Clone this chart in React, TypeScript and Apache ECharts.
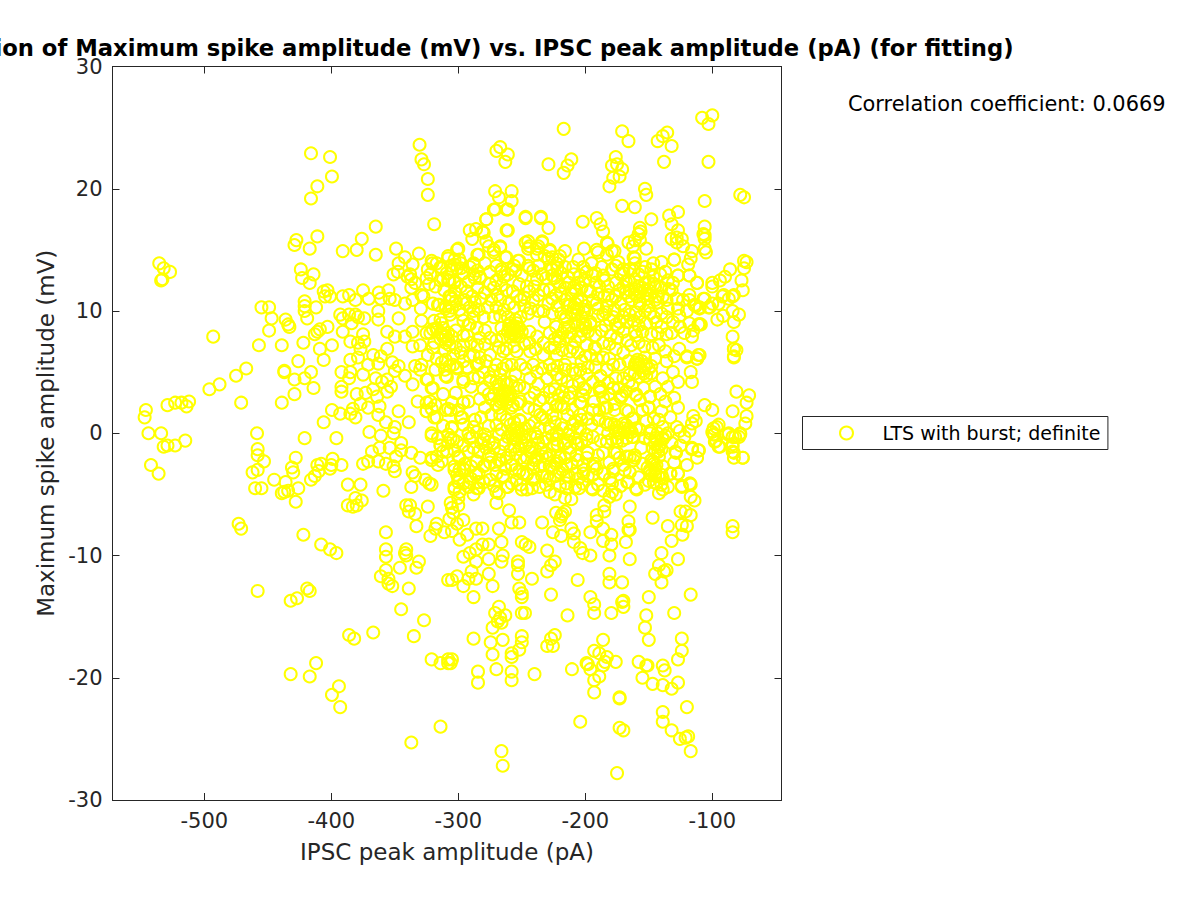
import React, { useEffect, useRef } from "react";
import * as echarts from "echarts";

type P = [number, number];

const xTicks = [-500, -400, -300, -200, -100];
const yTicks = [-30, -20, -10, 0, 10, 20, 30];

const upperLeft: P[] = [[-416,22.9],[-401,22.6],[-399.5,21],[-411,20.2],[-416,19.2],[-330.5,23.6],[-329,22.4],[-327,22],[-324,20.8],[-324,19.5],[-319,17.1],[-365,16.9],[-411,16.1],[-376,15.9],[-427.5,15.8],[-429,15.4],[-417,15.1],[-391,14.9],[-380,15],[-365,14.6],[-349,15.1],[-342,14.4],[-331,14.7],[-535.5,13.9],[-532,13.5],[-527,13.2],[-533,12.6],[-534,12.5],[-424,13.4],[-423,12.7],[-414,13],[-417,12.3],[-406,11.6],[-403,11.7],[-401,11.2],[-405,11.2],[-421,10.8],[-421,10.4],[-421,10],[-419,9.4],[-412,10.3],[-455,10.3],[-449,10.3],[-447,9.4],[-436,9.3],[-434,8.9],[-433,8.7],[-449,8.4],[-457,7.2],[-439,7.2],[-493,7.9],[-403,8.7],[-409,8.5],[-413,8.1],[-411,8.3],[-422,7.4],[-399.5,7.2],[-409,6.9],[-406,6],[-426,5.9],[-467,5.3],[-475,4.7],[-488,4],[-496,3.6],[-437,5.1],[-437,5],[-416,5],[-429,4.4],[-421,4.5],[-414,3.7],[-429,3.2],[-471,2.5],[-439,2.5],[-529,2.3],[-523,2.5],[-518,2.5],[-512,2.6],[-514,2.2],[-546,1.9],[-547,1.3],[-544,0],[-534,0],[-458.5,0],
[-391,11.2],[-386,11.3],[-381,10.9],[-375,11.7],[-370.5,11],[-362.6,11.5],[-361,11],[-355,11.7],[-354,11],[-350,10.9],[-363,10],[-363,9.3],[-347,9.4],[-342,10.6],[-336,10.9],[-329.5,10.2],[-393,9.7],[-391,9.4],[-386,9.7],[-381,9.7],[-379,9.5],[-374,9.4],[-384,9],[-391,8.3],[-375,8.1],[-356,8.3],[-350,7.9],[-342,7.9],[-336,8.3],[-336,7.1],[-330,7.2],[-385,7.5],[-379,7.4],[-374,7.5],[-377,6.9],[-385,6],[-379,6.2],[-367,6.4],[-356,6.9],[-361,6.3],[-363,5.7],[-371,5.6],[-352,5.8],[-347,5.5],[-350,5.1],[-342,4.7],[-334,5.5],[-329,5.6],[-324,6.4],[-330,5.2],[-375,4.8],[-392,5],[-385,5],[-386,4.5],[-365,4.5],[-356,4.4],[-360,4.2],[-353,3.8],[-336,4],[-325,4.4],[-321,3.7],[-392,3.8],[-392,3.4],[-380,3.2],[-373,3.3],[-367,3.6],[-364,3],[-356,3.4],[-377,2.4],[-371,2.1],[-362,2.2],[-363,1.5],[-399.5,1.9],[-393,1.6],[-385,1.6],[-381,1.3],[-383,2],[-347,1.8],[-332,2.6],[-325,2.5],[-318,2.3],[-325,1.8],[-319,1.3],[-310,1.9],[-339,0.9],[-406,0.9],[-357,0.9],[-370,0.1],[-350,0.5],[-351,0],[-361,-0.2],[-321,0],[-305,0.5],
[-347,13.9],[-351,13],[-347.5,13.2],[-336,13.8],[-340,12.8],[-337,12.6],[-334,12.3],[-337,11.9],[-324,13.4],[-320.5,13.9],[-314,13.6],[-308,14.3],[-306,13.7],[-325,12.7],[-323,12.2],[-312,12.6],[-307,12.5],[-329,11.3],[-307,11.2],[-315,10.5],[-310,10.4],[-307,10],[-319,9.2],[-313,9],[-329,9.2],[-325,8.2],[-310,7.9],[-317,8.5],[-313,8.2],[-310,6],[-307,5.5],[-310,4.7]];

const lowerLeft: P[] = [[-529,-1],[-532,-1.1],[-523,-1],[-515,-0.6],[-542,-2.6],[-536,-3.3],[-458,-1.3],[-458,-1.8],[-453,-2.3],[-428,-2],[-431,-2.8],[-430,-3.2],[-462,-3.2],[-458,-3],[-460,-4.5],[-455,-4.5],[-445,-3.8],[-436,-4],[-439,-4.9],[-437,-4.8],[-434,-4.7],[-426,-4.5],[-428,-5.6],[-416,-3.8],[-413,-3.5],[-410,-3.1],[-411,-2.6],[-408,-2.5],[-401,-2.9],[-399,-2.1],[-400,-2.6],[-392,-2.6],[-421,-0.4],[-396,-0.4],[-387,-4.2],[-377,-4.2],[-359,-4.7],[-375,-2.5],[-371,-2.3],[-368,-1.5],[-362,-1.2],[-363,-2.3],[-357,-2.5],[-354,-1.2],[-345,-0.8],[-345,-1.4],[-349,-1.9],[-351,-2.7],[-350,-3.1],[-337,-1.6],[-330,-2],[-336,-3.2],[-334,-3.5],[-337,-4.4],[-326,-3.8],[-323,-4.1],[-321,-4.2],[-321,-2],[-316,-2.6],[-313,-2.3],[-314,-1],[-309,-1.5],[-306,-0.4],
[-381,-5.3],[-387,-5.9],[-383,-6],[-380,-5.9],[-376,-5.5],[-341,-5.9],[-338,-5.9],[-339,-6.4],[-334,-6.6],[-324,-6],[-333,-7.6],[-322,-8.4],[-318,-7.8],[-317,-7.4],[-311,-8.1],[-307,-7],[-305,-6.1],[-473,-7.4],[-471,-7.8],[-422,-8.3],[-408,-9.1],[-401,-9.5],[-396,-9.8],[-357,-8.1],[-357,-9.5],[-357,-10.1],[-341,-9.5],[-342,-9.8],[-341,-10],[-331,-10.5],[-333,-11],[-346,-11],[-357,-11.2],[-361,-11.7],[-355,-11.9],[-355,-12.3],[-352,-12.5],[-339,-12.7],[-458,-12.9],[-432,-13.7],[-427,-13.5],[-419,-12.7],[-417,-12.9],[-345,-14.4],[-327,-15.3],[-335,-16.6],[-367,-16.3],[-386,-16.5],[-382,-16.8],[-321,-18.5],[-314,-18.8],[-308,-18.5],[-308,-18.8],[-412,-18.8],[-432,-19.7],[-417,-19.9],[-394,-20.7],[-399.5,-21.4],[-393,-22.4],[-314,-24],[-337,-25.3],[-308,-12]];

const lowerRight: P[] = [[-266,-26],[-265,-27.2],[-175,-27.8],[-117,-26],[-204,-23.6],[-173,-24.1],[-170,-24.3],[-139,-22.8],[-139,-23.6],[-132,-24.3],[-125.5,-25],[-119,-24.8],[-121,-24.9],[-120,-22.4],[-173,-21.6],[-173,-21.7],[-193,-21.2],[-193,-20.2],[-189,-19.9],[-196,-19.3],[-199,-18.8],[-198,-18.9],[-193,-17.8],[-186,-16.9],[-189,-18],[-183,-18.3],[-186,-19],[-184.5,-18.7],[-176,-18.7],[-210.5,-19.3],[-240,-19.7],[-258,-19.5],[-258,-20.2],[-270,-19.3],[-284.5,-19.5],[-284.5,-20.4],[-273,-18.1],[-258,-18],[-258,-18.3],[-252,-17.7],[-250,-17.1],[-250,-16.6],[-288,-16.8],[-274.5,-17.1],[-265,-16.9],[-230,-17.4],[-225.5,-17.4],[-227,-16.8],[-224,-16.5],[-158,-18.7],[-152,-19],[-151,-19],[-139,-19],[-137.5,-19.4],[-155,-20],[-147,-20.5],[-139,-20.6],[-132,-20.9],[-127,-20.4],[-127,-18.5],[-124,-17.8],[-124,-16.8],[-150,-16.9],[-153,-15.9],[-152,-14.9],[-150,-13.4],[-130,-14.7],[-117,-13.2],[-179.5,-14.7],[-193,-14.7],[-193,-14],[-196,-13.4],[-214,-14.9],[-227,-13.2],[-250,-14.7],[-247.5,-14.7],[-250,-13.4],[-250,-13.1],[-252,-12.7],[-273,-12.5],[-288,-13.4],[-268,-14.2],[-271,-14.7],[-263,-14.9],[-267,-15.1],[-269,-15.4],[-273,-15.9],[-266,-15.5],[-171,-13.8],[-170,-14.2],[-170,-13.7],[-181,-12.2],[-171,-12.2],[-181,-11.5],[-206,-12],[-242,-11.9],[-253,-11.5],[-253,-10.5],[-253,-10.8],[-224,-10.5],[-227,-10.8],[-230,-11.3],[-230,-9.6],[-250,-8.9],[-247,-9.1],[-244,-9.3],[-265,-10],[-266,-10.5],[-266,-8.9],[-268,-7.8],[-276,-10.3],[-276,-11.5],[-276,-9.1],[-281,-9.1],[-286,-7.8],[-281,-7.8],[-286,-9.5],[-291,-9.8],[-296,-10.1],[-286,-10.5],[-289.5,-11.3],[-292,-11.9],[-286,-11.9],[-296,-12.5],[-301,-11.7],[-305,-12],[-305,-18.5],[-306,-18.8],[-196,-10],[-202,-9.8],[-204,-9.4],[-209,-8.9],[-219,-8.4],[-225.5,-8.1],[-211,-7.8],[-209,-8.2],[-181,-10],[-179.5,-9.1],[-179.5,-8.3],[-186,-8.8],[-186,-7.8],[-196,-8.1],[-191,-7.2],[-191,-6.7],[-185,-6.4],[-185,-5.9],[-181,-5.2],[-176,-5],[-165,-6],[-166,-7.2],[-165,-7.9],[-166,-7.9],[-168,-8.9],[-165,-10.3],[-147,-6.9],[-135,-7.6],[-132,-8.8],[-123.5,-8.3],[-120,-7.6],[-124,-7.5],[-140,-9.8],[-127,-10.3],[-142,-10.8],[-136,-11.2],[-138,-11.3],[-145,-11.5],[-140,-12.2],[-84,-7.6],[-84,-8.1],
[-125,-6.4],[-121,-6.4],[-117,-6.7],[-114,-5.5],[-117,-5.2],[-117,-4.2],[-124,-4.4],[-127,-3.3],[-133,-3.3],[-145,-3.5],[-142,-4.9],[-139,-4.6],[-135,-4.4],[-159.5,-4.6],[-166,-4],[-161,-2],[-165,-1.9],[-175,-1.6],[-128.5,-1.6],[-116,-1.3],[-111,-1.4],[-112,-2],[-97,-0.6],[-95,-1.1],[-84,-1.1],[-83,-1.6],[-83,-2],[-76,-2],[-79,-0.3],[-84,-0.3],[-99,-0.1],[-149,-3],[-148,-3.4],[-144,-4.1],[-146,-2.5],[-142,-1.1],[-139,-0.5],[-149,-0.5],[-142,-1.9],[-139,-2.7],
[-270,-5.7],[-260,-6.3],[-258,-7.3],[-252,-7.3],[-234,-7.3],[-223,-6.5],[-219,-6.8],[-216,-6.4],[-220,-7.1],[-218,-6.6],[-275,-3.8],[-265,-3.6],[-261,-4.4],[-268,-4.9],[-250,-4.6],[-242,-4.5],[-228,-4.8],[-224,-5],[-216,-5.3],[-211,-5.4],[-215,-4.1],[-213,-3.5],[-194,-4.6],[-202,-4.1],[-198,-3.5],[-191,-2.9],[-185,-3.3],[-178,-2.9],[-169,-3],[-179,-4.1],[-306,-5.7],[-300,-5.9],[-304,-6.5],[-296,-7.1],[-299,-8.7],[-301,-7.4],[-305,-8],[-293,-8.3],[-292,-4.4],[-288,-5],[-299,-4.8],[-300,-5.3],[-284,-4.5],[-299,-3],[-299,-2],[-304,-0.5],[-286,-2.3],[-280,-2.7],[-274,-1.9],[-268,-2.2],[-258,-2.6],[-252,-3.1],[-246,-3.3],[-241,-2.5],[-234,-1.9],[-228,-2.7],[-220,-1.9],[-215,-2.6],[-208,-3.3],[-198,-1.6],[-207,-0.8],[-183,-0.7],[-175,-0.4],[-163,-0.3],
[-291,-0.4],[-280,-0.5],[-272,-0.8],[-257,-0.4],[-250,-0.7],[-244,-1.1],[-237,-0.8],[-231,-0.4],[-223,-0.5],[-216,-0.8],[-267,-1.5],[-284,-1.5],[-278,-1.2],[-248,-2.2],[-242,-1.6],[-236,-2.7],[-223,-2.5],[-231,-1.6],[-212,-1.6],[-199,-0.5],[-194,-2.7],[-201,-3],[-249,-3.3],[-241,-3.8],[-234,-3.5],[-223,-3.5],[-254,-3.8],[-295,-2.5],[-301,-3.4],[-303,-4.4]];

const upperRight: P[] = [[-100,26],[-108,25.8],[-103,25.3],[-217,24.9],[-171,24.7],[-166,23.9],[-143,23.9],[-139,24.3],[-135.5,24.6],[-132,23.5],[-267,23.4],[-270,23.1],[-261,22.8],[-263,22.2],[-229,22],[-211,22.4],[-214,21.9],[-217,21.3],[-176,22.6],[-179,21.9],[-175,22],[-171,21.6],[-173,21],[-178,20.9],[-181,20.2],[-138,22.2],[-103,22.2],[-153,20],[-152,19.5],[-78,19.5],[-75,19.3],[-106,19],[-171,18.6],[-161,18.5],[-271,19.8],[-268,19.3],[-258,19.8],[-258,19],[-271,18.3],[-261,18.3],[-247,17.6],[-235,17.6],[-229,16.8],[-261,16.6],[-278,17.5],[-291,16.6],[-286,16.7],[-289,15.9],[-280,16.4],[-278,15.7],[-202,17.3],[-191,17.6],[-188,17.1],[-186,16.5],[-183,15.6],[-148,17.5],[-134,17.8],[-127,18.1],[-132,17.1],[-127,16.6],[-106,16.9],[-107,16.3],[-106,16.2],[-106,15.9],[-106,15.1],[-105,14.8],[-157,16.8],[-156.5,16.5],[-158,16.3],[-161,15.8],[-152,15.1],[-166,15.6],[-162.5,15.3],[-157,15.8],[-128,16],[-124,15.9],[-132,15.9],[-128,15.6],[-123,15.3],[-116,14.9],[-117,14.3],[-119,13.8],[-130,14.2],[-247,15.6],[-245,15.1],[-234,15.6],[-238,15.1],[-228,14.9],[-216,14.9],[-201,15.1],[-191,15],[-179,14.9],[-161,14.3],[-301,15],[-303,14.2],[-298,13.9],[-288,13.8],[-285,14.6],[-272,14.8],[-267,15.2],[-263,14.4],[-256,13.7],[-252,14.1],[-245,13.7],[-276,15.3],[-266,13.2],
[-75,14.1],[-73,14],[-75,13.5],[-86,13.4],[-77,12.5],[-76,11.7],[-90,12.8],[-94,12.5],[-100,12.3],[-100,12],[-112,12.3],[-118,12.9],[-127,12.9],[-91,11.3],[-83,11.3],[-84,11.2],[-87,11],[-100,10.6],[-92,11.2],[-107,11],[-103,10.3],[-118,10.9],[-113,10.4],[-110,10.3],[-84,10],[-79,9.7],[-83,9.1],[-96,9.3],[-91.5,9.6],[-109,8.9],[-111,8.9],[-116,7.9],[-84,7.9],[-83,6.9],[-81,6.8],[-83,6.2],[-120,6.2],[-110,6.4],[-112,6.1],[-117,5],[-116,4.2],[-81,3.4],[-71,3.1],[-73,2.5],[-84,1.8],[-73,1.4],[-74,0.8],[-106,2.3],[-100,1.9],[-115,1.4],[-113,1],[-116,0.8],[-127,2.1],[-140,1.8],[-133,1.3],[-142,1.1],[-139,0.5],[-149,0.2],[-135,0],[-128,0.5],[-125.5,0.2],[-100,0.1],[-96.5,0.5],[-87,0],[-78,0],
[-296,2.5],[-298,1.3],[-306,1.9],[-287,1.1],[-189,3.7],[-188,3.4],[-178,3.7],[-200,3.6],[-202,3.1],[-204,2.5],[-183,2.1],[-160,3.2],[-149,3],[-150,2.1],[-172,2.9],[-177,2.4],[-166,1.8],[-162,1.2],[-189,1.1],[-180,0.8],[-175,0.5],[-170,0.4],[-165,0.4],[-296,4.2],[-288,4.5],[-301,5.3],[-293,5.4],[-284,5.7],[-296,8],[-291,8.9],[-288,10],[-294,10.6],[-305,11],[-287,12.7],[-283,12.7],[-303,12.3],[-298,13.5],[-305,13.4]];

const denseTopMiddle: P[] = [[-262,18.3],[-272,18.3],[-278,17.5],[-247,17.7],[-235,17.7],[-262,16.6],[-281,16.5],[-300,15.1],[-284,14.6],[-272,15],[-267,15.3],[-262,14.4],[-253,14.1],[-245,15.7],[-244,15.3],[-234,15.7],[-237,15.3],[-228,15],[-308,14.5],[-317,13.9],[-321,14.1],[-299,14.2],[-313,13.5],[-301,13.5],[-288,13.9],[-266,13.4],[-258,13.4],[-244,13.5],[-234,13],[-229,14.3],[-222.5,13.9],[-322,13],[-314,12.5],[-308,12.5],[-303,12.4],[-288,13],[-283,12.8],[-292,12.4],[-270,12.5],[-264,12.8],[-252,12.2],[-272,11.9],[-266,12.1],[-262,11.7],[-246,12],[-240,12],[-228,11.7],[-223,11.3],
[-306,11.2],[-289,11.2],[-295,10.9],[-316,10.5],[-310,10.2],[-305,10.3],[-299,10.1],[-291,10.3],[-284,10.1],[-274,10.9],[-267,10.9],[-260,10.6],[-251,10.9],[-241,10.9],[-229,10.6],[-233,10],[-245,9.8],[-272,9.5],[-280,9.5],[-288,9.5],[-297,9.7],[-306.5,9.7],[-314,9.3],[-232,9.1],[-292,8.9],[-293,8],[-285.5,8.6],[-279,8.4],[-270,7.6],[-259,9],[-257,8.7],[-254,9],[-261,8.3],[-253,8.3],[-258,8.2],[-255,7.9],[-244,8.3],[-238,7.9],[-228,8.2],[-223,8.7],[-283,7.8],[-233,7.4],[-314,8.2],[-310,8],[-308,7.6],[-312,8.6],[-317,8.6],[-310,7.4],[-322,8.2],[-305,7.9],[-256,8.5],[-256,8.1],[-259,8.5],[-252,8.6],[-338,13],[-327.5,11.2]];

const denseTopRight: P[] = [[-182.4,15.5],[-221,14.2],[-216,13.6],[-205.5,14.2],[-199,13.2],[-192,13.1],[-190,14.8],[-183,14.6],[-177,14.9],[-174,14],[-162,14.4],[-161,13.9],[-170,13.1],[-165,13.4],[-166,12.5],[-158,13],[-153,13.6],[-146.5,13.9],[-140,14],[-130,14.2],[-146.5,12.8],[-137,13.2],[-135,12.5],[-127,12.9],[-118,12.9],[-112,12.3],[-158,12],[-153,11.7],[-149,11.3],[-145,12],[-140,11.9],[-132,11.7],[-128,11],[-123,10.9],[-118,11.3],[-114,10.5],[-106,11],[-110,10.2],[-102,10.3],[-95,10.6],[-145,10.9],[-150,10.4],[-157,10.6],[-163.5,10.9],[-169,10.1],[-177,10.1],[-179,10.9],[-185,11.2],[-190,11.4],[-198,11.7],[-211,11.4],[-216,10.9],[-208,10.6],[-200,10.4],[-191,10.6],[-219,9.8],[-211,9.8],[-203,9.5],[-196,9.1],[-186,9.7],[-181,9.3],[-173,9.1],[-165,9.7],[-157,9.5],[-149,9.8],[-140,9.8],[-131,9.1],[-125.5,8.7],[-118,9],[-110,8.9],[-140,8.7],[-148,8.1],[-155,8.3],[-161,8.3],[-174,8.6],[-175,7.8],[-170,8.3],[-187,8.4],[-192,8],[-203,8.4],[-211,8.2],[-216,8.6],[-221,7.9],[-208,7.5],[-199,7.2],[-164,7.2],[-153.5,7.1],[-192.5,7],
[-205.5,12.3],[-208,11.7],[-213,12.3],[-220,12],[-200,12.5],[-192,12.3],[-185,12.5],[-179,13.4],[-187,13.6],[-195,13.9],[-201.6,13.6],[-209.5,13.6],[-219,13.1],[-170,12],[-165,11.7],[-166,11.2],[-161,11.4],[-154,11.2],[-150,12.3],[-143,11.2],[-136,10.9],[-208,9],[-200,8.9],[-216,9.3],[-205.5,10.1],[-204,7.9],[-198,8.3],[-183,10.4],[-178,9.5],[-167.5,9.1],[-155,11.9],[-152,11.4],[-157,11.5],[-150,11.7],[-206,10.9],[-203,10.8],[-209,10.3],[-212,10.5],[-201,9.9],[-214,7.9],[-218,8.2],[-220,7.5]];

const denseLowMiddle: P[] = [[-301,5.4],[-296,4.4],[-309,4.6],[-310.5,5.2],[-317,6.1],[-296,2.5],[-297,1.3],[-308,2],[-317,1.3],[-320,3.7],[-324,4.4],[-322,2.6],[-321,2],[-325,1.8],[-287,1.1],[-288,0.5],[-285.5,0.1],[-289,-0.3],[-305,0.4],[-308,-0.1],[-301,-0.7],[-308,-0.8],[-314,-1],[-321,-0.2],[-300,-1.9],[-312,-1.5],[-317,-1.9],[-321,-2.2],[-285.5,-2.3],[-296,-2.9],[-303,-2.7],[-300,-3.7],[-296,-4.1],[-275,-3.8],[-264.5,-3.5],[-258,-2.6],[-267,-2.2],[-279,-2.6],[-280,-0.5],[-272,-1.2],[-279,-0.1],[-291,-4],[-285.5,-4.5],[-303,-4.6],[-270,-4.8],[-262,-4.4],[-251,-4.2],[-240,-3.7],[-230,-3.5],[-238,-2],[-242,-1.2],[-228,-1.8],[-233,-0.7],[-254,-0.5],[-243.5,-0.1],[-239.6,0],[-234,1.3],[-228,0.4],[-222.5,0.1],
[-259,0.7],[-251,1],[-254,0.4],[-258,0],[-250,-0.1],[-255.3,-0.4],[-247.5,0.4],[-256,0.2],[-253,0.1],[-268,4],[-262,4],[-272,3.1],[-266,3.1],[-259,3.1],[-254,3.7],[-270,2.3],[-262,2.5],[-257,2.3],[-274,1.5],[-267,1.5],[-251,2.6],[-243.5,2.9],[-233,2.9],[-228,3.4],[-237,4],[-243.5,4.5],[-230,4.5],[-255,4.8],[-267,4.8],[-275,4.6],[-262,5.6],[-251,5.6],[-241,5.6],[-228,5.6],[-233,6.4],[-243.5,6.7],[-254,6.7],[-264.5,6.7],[-275,6.4],[-285.5,5.6],[-278,5.9],[-288,6.4],[-296,5.9],[-304,6.4],[-310.5,6.8],[-270,5.6],[-222.5,4.8],[-222.5,6.4],[-235.6,1.5],[-230,2],[-222.5,2.3],[-243.5,-1.5],[-230,-2],[-241,-2.9],[-222.5,-2.3],[-251,-2],[-246,-3.4],[-264,3.5],[-265,3],[-263,3.4],[-261,3.2],[-268,3.6],[-265,2.7],[-262,3]];

const denseLowRight: P[] = [[-83,6.9],[-83,6.3],[-120,6.3],[-111,6.4],[-112,6.1],[-99,0.4],[-95,0.7],[-98.5,-0.1],[-87.5,-0.1],[-78,-0.1],[-82,-0.3],[-98,-0.7],[-94,-1.1],[-84,-0.9],[-84,-1.5],[-76,-2],[-110.5,-1.4],[-116,-1.2],[-129,-1.5],[-145,-0.9],[-145,-1.5],[-148,-2.2],[-133,-3.3],[-127,-3.3],[-139,-3.7],[-117.6,-4.1],[-124,-4.3],[-149,-3.1],[-145,-3.3],[-140,-4.2],[-145,-0.4],[-139,-0.4],[-141,-0.9],[-142.5,-1.5],[-146.5,-2.3],[-145,-2.9],[-142.5,-3.5],
[-182,0.7],[-177,0.7],[-170,0.8],[-163.5,0.1],[-166,0.1],[-169,0.1],[-174,0],[-182,0],[-183,-0.7],[-175,-0.7],[-167.5,-0.4],[-162,-0.3],[-190,1.1],[-184.5,2.1],[-177,1.9],[-168,1.9],[-163,1.2],[-198,-1.6],[-192.5,-2.5],[-177,-1.6],[-173,-2],[-161,-1.8],[-162,-2.2],[-167.5,-1.9],[-178,-3.1],[-167,-4],[-160,-4.5],[-180.6,-3.7],[-179,-4.8],[-186,-3.3],[-195,-4.5],[-205.5,-3.7],[-201.6,-3.3],[-215,-3.5],[-215,-4.5],[-208,-4.4],
[-186,6.2],[-181,6.1],[-161,5.6],[-155.6,5.9],[-152,5.6],[-145,6.1],[-137,6.7],[-136,5.9],[-173,5.6],[-170,4.5],[-166,4.2],[-161,4.9],[-154,4.9],[-148,4.9],[-139,4.5],[-135,3.8],[-145,3.8],[-149,3],[-150.4,2.1],[-160,3.1],[-171,3.1],[-172.7,3],[-178,3.7],[-188.5,3.8],[-188.5,3.5],[-201.6,3.7],[-201.6,3.1],[-203,2.5],[-192,6.9],[-203,5.9],[-198,5.4],[-199,4.8],[-208,4.9],[-216,5.6],[-219,4.5],[-217,2.9],[-221,3.1],[-213,2.9],[-219,2.3],[-204,1.5],[-208,1],[-203,1.1],[-209.5,0.7],[-198,1.2],[-195,0.7],[-204,0.4],[-213.4,-0.1],[-208,-0.4],[-203,-0.7],[-219,0.7],[-221,-0.1],[-217,-0.9],[-212,-1.2],[-207,-1.8],[-220,-2],[-210.8,-2.5],[-201.6,-2.6],[-157,5.4],[-155,5.1],[-158,5.7],[-153,6.2],[-159,6],[-150,5.3]];

const solidPatches: P[] = [
[-170,13.4],[-162,13.3],[-155,13.2],[-148,13.4],[-141,13],[-168,12.4],[-160,11.8],[-153,12.3],[-146,12.2],[-139,11.2],[-168,11.5],[-159,11.2],[-151,11],[-143,10.7],[-161,12.6],[-134,11.8],[-131,12.3],
[-216,11.9],[-209,11.9],[-203,11.9],[-196,11.6],[-214,10.4],[-207,10.2],[-201,10.1],[-215,9.5],[-208,9.7],[-202,9],[-213,8.7],[-206,8.8],[-200,8.6],[-196,8.9],
[-267,9.6],[-261,9.5],[-255,9.3],[-251,9.5],[-266,8.6],[-260,8.8],[-254,8.7],[-250,8.3],[-265,7.9],[-259,7.9],[-252,7.9],
[-238,14.6],[-232,14.5],[-226,14.4],[-220,14.5],[-237,13.7],[-227,13.5],[-222,13.5],
[-320,8.5],[-314,7.7],[-308,8.2],[-302,8.4],[-319,7.4],[-312,7.9],[-307,7.2],
[-275,4.3],[-270,4.2],[-264,4.2],[-258,4.2],[-252,3.9],[-274,2.8],[-267,2.6],[-260,2.8],[-253,2.4],[-268,2.1],[-258,2.1],
[-262,1.1],[-256,0.9],[-250,0.3],[-244,0.6],[-261,-0.3],[-254,-0.2],[-248,-0.3],[-252,1.1],
[-224,7],[-218,6.8],[-212,6.7],[-206,6.6],[-200,6.3],[-222,5.5],[-216,5.2],[-210,5.2],[-204,5.2],
[-166,5.9],[-160,5.8],[-154,5.5],[-148,5.5],[-165,4.8],[-158,4.6],[-152,4.7],
[-224,0.9],[-218,0.4],[-212,0.2],[-206,0.4],[-199,-0.1],[-222,-0.9],[-214,-0.6],[-206,-0.9],[-199,-2],[-216,-2],[-206,-2.2],
[-184,0.9],[-176,0.2],[-168,0.7],[-160,0.4],[-179,-0.5],[-171,-0.6],
[-149,0],[-143,0],[-137,-0.2],[-147,-1.2],[-140,-1.3],
[-151,-2.8],[-146,-4],[-140,-3.4],[-150,-3.9],[-144,-2.6],
[-224,3.6],[-218,3.4],[-212,3.3],[-223,2.2],[-217,2.1],
[-300,-4],[-295,-3],[-290,-2.7],[-286,-3.4],[-280,-4],[-275,-2.4],[-270,-3.3],[-263,-2.9],[-255,-3],[-252,-1.3],[-247,-1],[-240,-2.2],[-235,-1.3],[-228,-3.7],[-225,-1],[-220,-3.2],[-303,-3],[-292,-1.5],[-284,-3.3],[-276,-0.7]];

const gapFill: P[] = [
[-309,13.1],[-303,13.8],[-296,13.1],[-291,13.6],[-285,13.3],[-279,13.9],[-275,13.2],[-270,13.7],[-261,13],[-255,13.3],[-250,12.9],[-241,13.3],[-238,12.6],[-231,12.7],[-226,12.9],[-222,12.4],[-318,12],[-311,11.7],[-303,11.6],[-298,12],[-293,11.6],[-285,11.9],[-279,11.5],[-275,12.2],[-269,11.3],[-257,11.6],[-254,11.2],[-248,11.1],[-244,11.6],[-237,11.3],[-233,11.7],[-226,11],[-219,11.4],[-320,10.6],[-302,10.8],[-296,9.2],[-287,10.7],[-282,11],[-277,10.3],[-270,10.3],[-264,10.1],[-256,10.3],[-248,10.4],[-243,10.2],[-237,10],[-226,9.8],[-222,10.4],
[-320,7],[-302,7],[-296,7.2],[-290,7.4],[-285,7.2],[-279,7.3],[-275,7.8],[-268,7],[-262,6.9],[-256,7.1],[-248,7.3],[-244,7.4],[-239,6.9],[-228,7],[-224,7.7],[-318,5.2],[-313,5.8],[-304,5.6],[-298,6.6],[-291,6.3],[-283,6.2],[-280,5],[-272,5.1],[-265,5.3],[-258,5.6],[-247,5.3],[-238,5],[-234,5.3],[-226,5.2],[-284,4.6],[-290,3.8],[-280,3.6],[-276,3.2],[-248,3.7],[-240,3.3],[-236,2.7],[-245,2.1],[-240,1.9],[-226,2.8],[-283,2.8],[-292,2.6],[-302,3.3],[-312,3.2],[-305,2.5],[-279,2.1],[-282,1.3],[-276,0.6],[-270,0.7],[-266,0.3],[-240,0.9],[-236,0.4],[-231,1.1],[-226,1.5],[-296,0.7],[-300,1.9],[-292,0],[-312,0.6],[-316,-0.4],
[-268,-0.1],[-264,-0.9],[-259,-1.4],[-255,-1.7],[-238,-0.3],[-226,-0.2],[-296,-1],[-303,-1.4],[-288,-1.2],[-282,-0.8],[-276,-1.8],[-271,-2.6],[-262,-2],[-256,-1.1],[-246,-2],[-233,-2.6],[-226,-2.9],[-218,-3],[-290,-3.7],[-284,-4],[-272,-4.3],[-258,-4.1],[-246,-4.6],[-236,-4.4],[-231,-4.2],[-220,-4.3],[-205,-4.5],[-190,-4.2],[-186,-4.7],[-172,-4.3],[-194,-3.4],[-190,-1.8],[-188,-0.6],[-194,-0.3],[-186,-1.6],[-181,-2.4],[-170,-2.6],[-165,-3.2],[-155,-2.5],[-156,-1.2],[-153,-0.4],[-157,0.3],[-152,1],[-146,1.2],[-155,1.9],[-158,-3.6],[-153,-4.2],[-130,-2.4],[-132,-0.8],[-125,-1],[-120,-2.6],[-122,-0.3],[-118,0.2],
[-192,5.4],[-188,4.7],[-183,5.2],[-178,5.6],[-176,4.5],[-182,4.1],[-194,4.2],[-193,2.6],[-186,2.9],[-181,3.2],[-174,3.7],[-168,3.4],[-163,3.9],[-157,2.7],[-154,3.7],[-141,3.2],[-137,2.6],[-130,2.9],[-131,5],[-127,4.2],[-130,6.3],[-126,6.9],[-142,7.2],[-147,7],[-158,7.4],[-170,6.6],[-176,6.9],[-181,7.3],[-186,7.4],[-191,6.1],[-196,6.4],[-210,7],[-214,4.2],[-210,3.9],[-205,4.2],[-194,1.9],[-189,1.9],[-214,1.5],[-210,1.9],
[-190,9.6],[-184,8.8],[-176,8.9],[-170,9.5],[-162,9.2],[-158,8.8],[-152,9],[-144,9.1],[-136,9.5],[-132,8.2],[-126,9.6],[-122,8.2],[-115,8.4],[-190,10.2],[-184,9.9],[-172,10.6],[-160,9.9],[-153,10],[-146,9.5],[-135,10.2],[-127,10.2],[-120,10],[-194,12.9],[-186,12.9],[-182,12],[-176,12.3],[-173,11.7],[-176,11.2],[-182,11.3],[-194,10.9],[-189,12],[-172,13],[-176,13.7],[-204,12.9],[-224,12.7],[-226,13.4],[-214,12.8],[-209,13],[-160,8],[-143,8.2],[-136,8.1],[-180,8],[-167,7.6]];

const points: P[] = [...upperLeft, ...lowerLeft, ...lowerRight, ...upperRight, ...denseTopMiddle, ...denseTopRight, ...denseLowMiddle, ...denseLowRight, ...solidPatches, ...gapFill];

const INK = "#262626";
const FONT = "'DejaVu Sans'";

export default function App() {
  const ref = useRef<HTMLDivElement>(null);
  useEffect(() => {
    document.body.style.margin = "0";
    const chart = echarts.init(ref.current!, undefined, { renderer: "svg" });
    const tickStyle = { show: true, inside: true, length: 7, lineStyle: { color: INK, width: 1 } };
    const line = { show: true, onZero: false, lineStyle: { color: INK, width: 1 } };
    const xBase = { type: "value", min: -572.3, max: -45.5, splitLine: { show: false } };
    const yBase = { type: "value", min: yTicks[0], max: yTicks[yTicks.length - 1], interval: 10, splitLine: { show: false } };
    chart.setOption({
      animation: false,
      backgroundColor: "#fff",
      textStyle: { fontFamily: FONT },
      title: {
        text: "Correlation of Maximum spike amplitude (mV) vs. IPSC peak amplitude (pA) (for fitting)",
        left: 447,
        top: 31,
        textAlign: "center",
        textStyle: { fontFamily: FONT, fontWeight: "bold", fontSize: 22.7, color: "#000" },
      },
      grid: { left: 112.5, right: 418.5, top: 66.5, bottom: 100 },
      xAxis: [
        {
          ...xBase,
          position: "bottom",
          axisLine: line,
          axisTick: { ...tickStyle, customValues: xTicks },
          axisLabel: { color: INK, fontFamily: FONT, fontSize: 21, margin: 10, customValues: xTicks },
          name: "IPSC peak amplitude (pA)",
          nameLocation: "middle",
          nameGap: 40,
          nameTextStyle: { color: INK, fontFamily: FONT, fontSize: 23 },
        },
        {
          ...xBase,
          position: "top",
          axisLine: line,
          axisTick: { ...tickStyle, customValues: xTicks },
          axisLabel: { show: false },
        },
      ],
      yAxis: [
        {
          ...yBase,
          position: "left",
          axisLine: line,
          axisTick: tickStyle,
          axisLabel: { color: INK, fontFamily: FONT, fontSize: 21, margin: 10 },
          name: "Maximum spike amplitude (mV)",
          nameLocation: "middle",
          nameGap: 49,
          nameTextStyle: { color: INK, fontFamily: FONT, fontSize: 23 },
        },
        { ...yBase, position: "right", axisLine: line, axisTick: tickStyle, axisLabel: { show: false } },
      ],
      legend: {
        show: true,
        left: 802.5,
        top: 416.5,
        orient: "vertical",
        padding: [7, 7.5, 7, 35],
        itemWidth: 62,
        itemHeight: 13,
        borderColor: INK,
        borderWidth: 1,
        backgroundColor: "#fff",
        textStyle: { fontFamily: FONT, fontSize: 19, color: "#000" },
        data: [{ name: "LTS with burst; definite", icon: "circle" }],
      },
      graphic: [
        {
          type: "text",
          x: 848,
          y: 93,
          style: { text: "Correlation coefficient: 0.0669", font: `20.9px ${FONT}`, fill: "#000" },
        },
      ],
      series: [
        {
          name: "LTS with burst; definite",
          type: "scatter",
          xAxisIndex: 0,
          yAxisIndex: 0,
          data: points,
          symbol: "circle",
          symbolSize: 12,
          itemStyle: { color: "none", borderColor: "#ffff00", borderWidth: 2, opacity: 1 },
          emphasis: { disabled: true },
        },
      ],
    });
    return () => chart.dispose();
  }, []);
  return <div ref={ref} style={{ width: 1200, height: 900 }} />;
}
